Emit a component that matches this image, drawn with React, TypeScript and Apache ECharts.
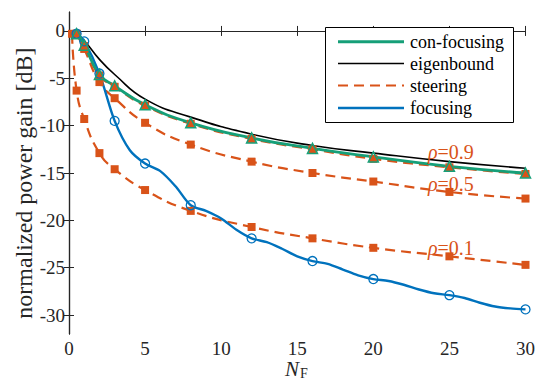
import React, { useEffect, useRef } from "react";
import * as echarts from "echarts";

const nF = [0.5, 1, 2, 3, 5, 8, 12, 16, 20, 25, 30];
const conFocusing = [-0.3, -1.5, -4.6, -5.8, -7.8, -9.7, -11.3, -12.4, -13.3, -14.3, -15.0];
const eigenbound = [-0.25, -1.0, -3.0, -4.6, -7.2, -9.1, -10.9, -12.1, -12.9, -13.8, -14.5];
const steering09 = [-0.3, -1.6, -4.7, -5.9, -7.9, -9.8, -11.4, -12.5, -13.5, -14.4, -15.1];
const steering05 = [-0.3, -1.9, -5.4, -7.1, -9.7, -12.0, -13.8, -15.0, -15.9, -17.0, -17.7];
const nF01 = [0.2, 0.5, 1, 2, 3, 5, 8, 12, 16, 20, 25, 30];
const steering01 = [-0.3, -6.3, -9.3, -12.9, -14.6, -16.8, -19.0, -20.7, -21.9, -22.9, -23.8, -24.7];
// focusing curve: sampled points (marked ones coincide with nF)
const focusingX = [0.5, 1, 2, 3, 4, 5, 6, 7, 8, 9, 10, 11, 12, 13, 14, 15, 16, 17, 18, 19, 20, 21, 22, 23, 24, 25, 26, 27, 28, 29, 30];
const focusingY = [-0.3, -1.1, -4.5, -9.5, -12.6, -14.0, -14.8, -16.4, -18.4, -19.0, -19.8, -21.0, -21.9, -22.3, -23.0, -23.8, -24.3, -24.6, -25.2, -25.8, -26.2, -26.4, -26.8, -27.3, -27.7, -27.9, -28.2, -28.7, -29.1, -29.3, -29.4];

const xTicks = [0, 5, 10, 15, 20, 25, 30];
const yTicks = [-30, -25, -20, -15, -10, -5, 0];
const legendNames = ["con-focusing", "eigenbound", "steering", "focusing"];
const rhoLabels = ["0.9", "0.5", "0.1"];

const GREEN = "#169F78";
const ORANGE = "#D95319";
const BLUE = "#0072BD";
const BLACK = "#000000";
const AXIS = "#262626";
const SERIF = "Liberation Serif";

const pairs = (xs: number[], ys: number[]) => xs.map((x, i) => [x, ys[i]]);

export default function App() {
  const ref = useRef<HTMLDivElement>(null);
  useEffect(() => {
    document.body.style.margin = "0";
    if (!ref.current) return;
    const chart = echarts.init(ref.current, undefined, { renderer: "svg" });
    const axisCommon = {
      type: "value" as const,
      axisLine: { show: true, lineStyle: { color: AXIS, width: 1.2 } },
      axisTick: { show: true, inside: true, length: 5, lineStyle: { color: AXIS, width: 1 } },
      splitLine: { show: false },
    };
    const steeringStyle = (data: number[][]) => ({
      type: "line",
      name: "steering",
      data,
      smooth: true,
      symbol: "rect",
      symbolSize: 8,
      itemStyle: { color: ORANGE },
      lineStyle: { color: ORANGE, width: 2.2, type: [10, 6] },
    });
    const legendColors = [GREEN, BLACK, ORANGE, BLUE];
    const legendWidths = [3, 1.6, 2.2, 2.6];
    const legendY = [41.7, 63.5, 85.5, 108];
    const graphics: any[] = [
      {
        type: "rect",
        shape: { x: 325.5, y: 27.5, width: 188, height: 95 },
        style: { fill: "#fff", stroke: "#000", lineWidth: 1 },
        z: 100,
      },
    ];
    legendNames.forEach((n, i) => {
      graphics.push({
        type: "line",
        shape: { x1: 338, y1: legendY[i], x2: 404, y2: legendY[i] },
        style: {
          stroke: legendColors[i],
          lineWidth: legendWidths[i],
          lineDash: i === 2 ? [10, 6] : undefined,
        },
        z: 101,
      });
      graphics.push({
        type: "text",
        x: 410,
        y: legendY[i],
        style: {
          text: n,
          fontFamily: SERIF,
          fontSize: 18,
          fill: "#000",
          align: "left",
          verticalAlign: "middle",
        },
        z: 101,
      });
    });
    const rhoY = [151.5, 183.5, 248];
    rhoLabels.forEach((r, i) => {
      graphics.push({
        type: "text",
        x: 428,
        y: rhoY[i],
        style: {
          text: `{i|ρ}{n|=${r}}`,
          align: "left",
          verticalAlign: "middle",
          fill: ORANGE,
          rich: {
            i: { fontFamily: SERIF, fontStyle: "italic", fontSize: 20, fill: ORANGE },
            n: { fontFamily: SERIF, fontSize: 20, fill: ORANGE },
          },
        },
        z: 90,
      });
    });
    graphics.push({
      type: "text",
      x: 24,
      y: 183,
      rotation: Math.PI / 2,
      style: {
        text: "normalized power gain [dB]",
        fontFamily: SERIF,
        fontSize: 24,
        fill: AXIS,
        align: "center",
        verticalAlign: "middle",
      },
    });
    graphics.push({
      type: "text",
      x: 285,
      y: 369,
      style: {
        text: "N",
        fontFamily: SERIF,
        fontStyle: "italic",
        fontSize: 21,
        fill: AXIS,
        align: "left",
        verticalAlign: "middle",
      },
    });
    graphics.push({
      type: "text",
      x: 300,
      y: 373,
      style: {
        text: "F",
        fontFamily: SERIF,
        fontSize: 14,
        fill: AXIS,
        align: "left",
        verticalAlign: "middle",
      },
    });

    const marked = new Set(nF);
    chart.setOption({
      animation: false,
      backgroundColor: "#fff",
      textStyle: { fontFamily: SERIF },
      grid: { left: 69, right: 9, top: 12, bottom: 47, containLabel: false },
      xAxis: [
        {
          ...axisCommon,
          position: "bottom",
          min: 0,
          max: 30,
          interval: 5,
          axisLabel: {
            customValues: xTicks,
            fontFamily: SERIF,
            fontSize: 19,
            color: AXIS,
            margin: 5,
          },
          axisTick: { ...axisCommon.axisTick, customValues: xTicks },
        },
        {
          ...axisCommon,
          position: "top",
          min: 0,
          max: 30,
          interval: 5,
          axisLabel: { show: false },
        },
      ],
      yAxis: [
        {
          ...axisCommon,
          position: "left",
          min: -32,
          max: 2,
          axisLabel: {
            customValues: yTicks,
            fontFamily: SERIF,
            fontSize: 19,
            color: AXIS,
            margin: 4,
          },
          axisTick: { ...axisCommon.axisTick, customValues: yTicks },
        },
        {
          ...axisCommon,
          position: "right",
          min: -32,
          max: 2,
          axisLabel: { show: false },
          axisTick: { ...axisCommon.axisTick, customValues: yTicks },
        },
      ],
      series: [
        {
          type: "line",
          name: "eigenbound",
          data: pairs(nF, eigenbound),
          smooth: true,
          symbol: "none",
          lineStyle: { color: BLACK, width: 1.6 },
        },
        steeringStyle(pairs(nF01, steering01)),
        steeringStyle(pairs(nF, steering05)),
        steeringStyle(pairs(nF, steering09)),
        {
          type: "line",
          name: "focusing",
          data: focusingX.map((x, i) => ({
            value: [x, focusingY[i]],
            symbol: marked.has(x) ? "circle" : "none",
          })),
          smooth: 0.3,
          symbol: "circle",
          symbolSize: 9,
          showAllSymbol: true,
          itemStyle: { color: "rgba(0,0,0,0)", borderColor: BLUE, borderWidth: 1.3 },
          lineStyle: { color: BLUE, width: 2.4 },
        },
        {
          type: "line",
          name: "con-focusing",
          data: pairs(nF, conFocusing),
          smooth: true,
          symbol: "triangle",
          symbolSize: 10,
          itemStyle: { color: "rgba(0,0,0,0)", borderColor: GREEN, borderWidth: 1.5 },
          lineStyle: { color: GREEN, width: 2.8 },
        },
      ],
      graphic: graphics,
    });
    return () => chart.dispose();
  }, []);
  return <div ref={ref} style={{ width: 538, height: 381 }} />;
}
